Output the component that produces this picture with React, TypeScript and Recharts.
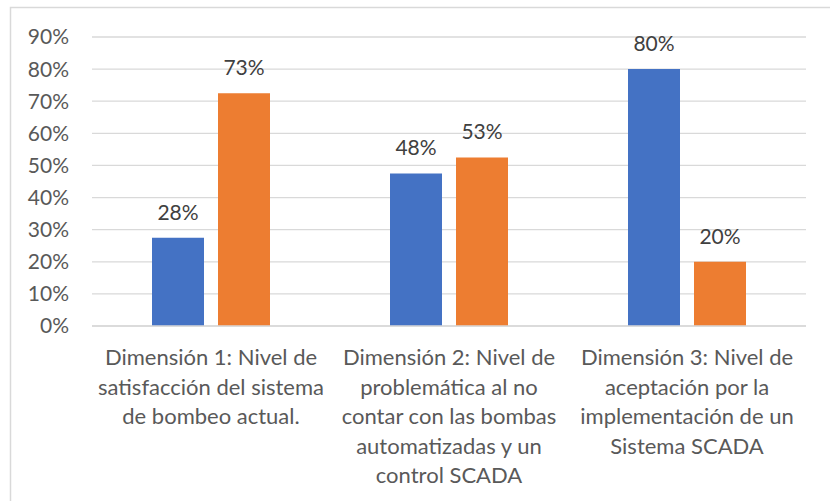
import React from 'react';
import { BarChart, Bar, XAxis, YAxis, CartesianGrid, LabelList } from 'recharts';

// category labels, "\n" marks where the original wraps
const categories = [
  'Dimensión 1: Nivel de\nsatisfacción del sistema\nde bombeo actual.',
  'Dimensión 2: Nivel de\nproblemática al no\ncontar con las bombas\nautomatizadas y un\ncontrol SCADA',
  'Dimensión 3: Nivel de\naceptación por la\nimplementación de un\nSistema SCADA',
];
const serie1 = [27.5, 47.5, 80];
const serie2 = [72.5, 52.5, 20];
const yTicks = [0, 10, 20, 30, 40, 50, 60, 70, 80, 90];

const data = categories.map((name, i) => ({ name, s1: serie1[i], s2: serie2[i] }));

const FONT = 'Lato, "Open Sans", sans-serif';
const TEXT = '#595959';

const CategoryTick = (props: any) => {
  const { x, y, payload } = props;
  const lines: string[] = String(payload.value).split('\n');
  return (
    <text x={x} y={y} textAnchor="middle" fill={TEXT} fontSize={22} fontFamily={FONT}>
      {lines.map((line, i) => (
        <tspan key={i} x={x} dy={i === 0 ? 31 : 29.5}>
          {line}
        </tspan>
      ))}
    </text>
  );
};

const pct = (v: any) => `${Math.round(Number(v))}%`;

const App: React.FC = () => {
  return (
    <div style={{ position: 'fixed', left: 0, top: 0, width: 830, height: 501, background: '#fff' }}>
      <svg width={830} height={501} style={{ position: 'absolute', left: 0, top: 0 }}>
        <rect x={10.5} y={7.5} width={840} height={520} fill="none" stroke="#d9d9d9" strokeWidth={1.5} />
      </svg>
      <div style={{ position: 'absolute', left: 0, top: 0 }}>
        <BarChart
          width={830}
          height={501}
          data={data}
          margin={{ top: 37, right: 24, bottom: 0, left: 0 }}
          barCategoryGap={60}
          barGap={14}
        >
          <CartesianGrid vertical={false} stroke="#d9d9d9" strokeWidth={1.3} />
          <XAxis
            dataKey="name"
            height={175}
            interval={0}
            tickLine={false}
            axisLine={{ stroke: '#d9d9d9', strokeWidth: 1.3 }}
            tick={<CategoryTick />}
          />
          <YAxis
            width={92}
            domain={[0, 90]}
            ticks={yTicks}
            tickFormatter={(v: number) => `${v}%`}
            axisLine={false}
            tickLine={false}
            tickMargin={17}
            tick={{ fill: TEXT, fontSize: 21, fontFamily: FONT }}
          />
          <Bar dataKey="s1" fill="#4472C4" isAnimationActive={false}>
            <LabelList dataKey="s1" position="top" offset={18} formatter={pct} fill="#404040" fontSize={21} fontFamily={FONT} />
          </Bar>
          <Bar dataKey="s2" fill="#ED7D31" isAnimationActive={false}>
            <LabelList dataKey="s2" position="top" offset={18} formatter={pct} fill="#404040" fontSize={21} fontFamily={FONT} />
          </Bar>
        </BarChart>
      </div>
    </div>
  );
};

export default App;
